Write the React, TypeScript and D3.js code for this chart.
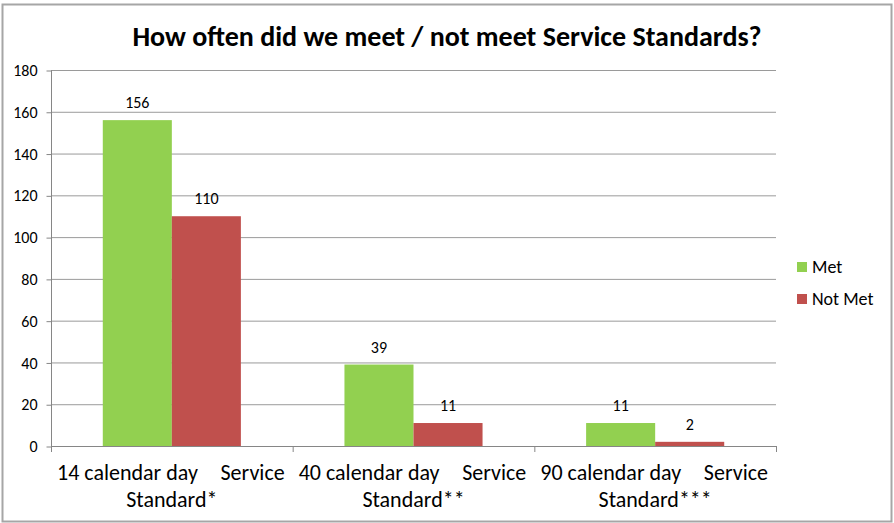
import React, { useEffect, useRef } from "react";
import * as d3 from "d3";

const categories = ["14 calendar day", "40 calendar day", "90 calendar day"];
const secondLine = ["Standard*", "Standard**", "Standard***"];
const seriesNames = ["Met", "Not Met"];
const metValues = [156, 39, 11];
const notMetValues = [110, 11, 2];
const yTicks = [0, 20, 40, 60, 80, 100, 120, 140, 160, 180];
const colors = ["#92D050", "#C0504D"];

const font = "Calibri, Carlito, Lato, 'Open Sans', sans-serif";

const App = () => {
	const ref = useRef<SVGSVGElement>(null);

	useEffect(() => {
		const width = 894;
		const height = 523;
		const left = 51, right = 776, top = 70, bottom = 446;

		const svg = d3.select(ref.current);
		svg.selectAll("*").remove();
		svg.attr("width", width).attr("height", height);

		svg.append("rect")
			.attr("x", 2.5).attr("y", 4.5)
			.attr("width", 889).attr("height", 517)
			.attr("fill", "white")
			.attr("stroke", "#a6a6a6")
			.attr("stroke-width", 2);

		svg.append("text")
			.attr("x", 447).attr("y", 46)
			.attr("text-anchor", "middle")
			.style("font-family", font)
			.style("font-size", "28px")
			.style("font-weight", "bold")
			.text("How often did we meet / not meet Service Standards?");

		const x0 = d3.scaleBand().domain(categories).range([left, right]).padding(0);
		const x1 = d3.scaleBand().domain(seriesNames).range([0, x0.bandwidth()]).paddingInner(0).paddingOuter(0.75);
		const y = d3.scaleLinear().domain([0, 180]).range([bottom, top]);

		// gridlines
		svg.append("g")
			.selectAll("line")
			.data(yTicks.filter(t => t > 0))
			.enter()
			.append("line")
			.attr("x1", left).attr("x2", right)
			.attr("y1", d => y(d) + 0.5).attr("y2", d => y(d) + 0.5)
			.attr("stroke", "#9a9a9a")
			.attr("stroke-width", 1);

		// y axis
		const yAxis = svg.append("g").attr("transform", `translate(${left + 0.5},0.5)`)
			.call(d3.axisLeft(y).tickValues(yTicks).tickSize(5).tickPadding(9));
		yAxis.select(".domain").attr("stroke", "#868686").attr("d", `M0,${top}V${bottom}`);
		yAxis.selectAll(".tick line").attr("stroke", "#868686");
		yAxis.selectAll("text")
			.style("font-family", font)
			.style("font-size", "16px")
			.attr("fill", "#000");

		// bars
		const data = categories.map((c, i) => ({ cat: c, vals: [metValues[i], notMetValues[i]] }));
		const groups = svg.append("g")
			.selectAll("g")
			.data(data)
			.enter()
			.append("g")
			.attr("transform", d => `translate(${x0(d.cat)},0)`);

		groups.selectAll("rect")
			.data(d => d.vals.map((v, j) => ({ name: seriesNames[j], v, j })))
			.enter()
			.append("rect")
			.attr("x", d => x1(d.name))
			.attr("y", d => y(d.v))
			.attr("width", x1.bandwidth())
			.attr("height", d => y(0) - y(d.v))
			.attr("fill", d => colors[d.j]);

		groups.selectAll("text")
			.data(d => d.vals.map((v, j) => ({ name: seriesNames[j], v, j })))
			.enter()
			.append("text")
			.attr("x", d => x1(d.name) + x1.bandwidth() / 2)
			.attr("y", d => y(d.v) - 12)
			.attr("text-anchor", "middle")
			.style("font-family", font)
			.style("font-size", "16px")
			.text(d => d.v);

		// x axis
		const xg = svg.append("g");
		xg.append("line")
			.attr("x1", left).attr("x2", right)
			.attr("y1", bottom + 0.5).attr("y2", bottom + 0.5)
			.attr("stroke", "#868686");
		const edges = categories.map(c => x0(c)).concat([right]);
		xg.selectAll(".xt")
			.data(edges)
			.enter()
			.append("line")
			.attr("x1", d => d + 0.5).attr("x2", d => d + 0.5)
			.attr("y1", bottom).attr("y2", bottom + 6)
			.attr("stroke", "#868686");

		const labels = xg.selectAll(".lab")
			.data(categories)
			.enter()
			.append("g")
			.style("font-family", font)
			.style("font-size", "22px");
		labels.append("text")
			.attr("x", d => x0(d) + 6)
			.attr("y", 480)
			.text(d => d);
		labels.append("text")
			.attr("x", d => x0(d) + x0.bandwidth() - 8)
			.attr("y", 480)
			.attr("text-anchor", "end")
			.text("Service");
		labels.append("text")
			.attr("x", d => x0(d) + x0.bandwidth() / 2)
			.attr("y", 507)
			.attr("text-anchor", "middle")
			.text((d, i) => secondLine[i]);

		// legend
		const legend = svg.append("g")
			.selectAll("g")
			.data(seriesNames)
			.enter()
			.append("g")
			.attr("transform", (d, i) => `translate(797,${262 + i * 32})`);
		legend.append("rect")
			.attr("width", 10).attr("height", 10)
			.attr("fill", (d, i) => colors[i]);
		legend.append("text")
			.attr("x", 15).attr("y", 11)
			.style("font-family", font)
			.style("font-size", "18px")
			.text(d => d);
	}, []);

	return (
		<>
			<style>{`body{margin:0}`}</style>
			<svg ref={ref} style={{ display: "block" }}></svg>
		</>
	);
};

export default App;
